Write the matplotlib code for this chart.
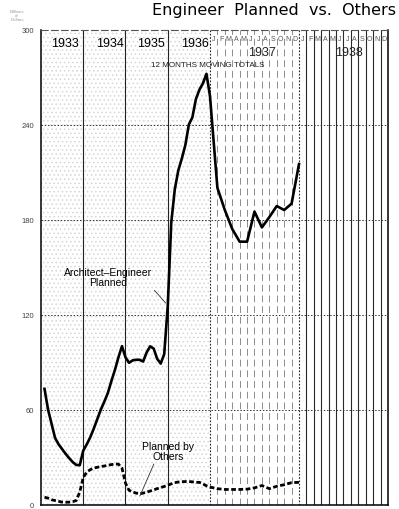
import numpy as np
import matplotlib
matplotlib.use("Agg")
import matplotlib.pyplot as plt

plt.rcParams['font.family'] = ['Liberation Sans', 'DejaVu Sans']
plt.rcParams['hatch.linewidth'] = 0.6

# Monthly 12-month moving totals, millions of dollars, Jan 1933 .. Dec 1937
architect_engineer = [
    73, 60, 51, 42, 38, 35, 32, 29.3, 26.8, 25, 24.8, 34,          # 1933
    38, 42.5, 48, 54, 60, 65, 70.5, 78, 85, 93, 100, 93,           # 1934
    89.5, 91, 91.4, 91.4, 90.3, 96, 99.9, 98.5, 92, 89, 95, 125,   # 1935
    178, 199, 211, 218.5, 227, 240, 244.5, 256, 262, 266, 272, 258,  # 1936
    200, 186, 174, 166, 166, 185, 175, 181.5, 188.5, 186, 190, 215,  # 1937
]
planned_by_others = [
    4.6, 4, 3, 2.5, 2, 1.5, 1.4, 1.5, 1.8, 2.5, 7.8, 17,           # 1933
    20.5, 22, 23, 23.5, 24, 24.3, 24.8, 25.2, 25.6, 25.5, 23, 13.5,  # 1934
    9, 8, 7.2, 6.7, 7.2, 7.8, 8.5, 9.2, 10, 10.7, 11.4, 12.2,      # 1935
    13, 13.8, 14.2, 14.4, 14.5, 14.5, 14.3, 14, 14, 13, 11.8, 11,  # 1936
    10, 9.5, 9.5, 9.5, 9.7, 10.5, 12, 10, 11.5, 12.5, 13.8, 14,    # 1937
]
months = np.arange(1, len(architect_engineer) + 1)   # end of each month, months since Jan 1933

years = ['1933', '1934', '1935', '1936', '1937', '1938']
month_letters = list('JFMAMJJASOND')
y_ticks = [0, 60, 120, 180, 240, 300]

# 1937 and 1938 are drawn on a wider monthly scale than 1933-1936
STRETCH = 2.107


def fwd(m):
    m = np.asarray(m, dtype=float)
    return np.where(m <= 48, m, 48 + (m - 48) * STRETCH)


def inv(u):
    u = np.asarray(u, dtype=float)
    return np.where(u <= 48, u, 48 + (u - 48) / STRETCH)


fig = plt.figure(figsize=(3.99, 5.10), dpi=100)
ax = fig.add_axes([41 / 399, 4.5 / 510, 347 / 399, 475 / 510])
ax.set_xscale('function', functions=(fwd, inv))
ax.set_xlim(0, 72)
ax.set_ylim(0, 300)

# stippled panel for 1933-1936
ax.axvspan(0, 48, facecolor='none', edgecolor='#d6d6d6', hatch='....', lw=0, zorder=0)

# month rulings for 1937 (light, broken) and 1938 (dark)
for m in range(49, 60):
    ax.axvline(m, color='#8c8c8c', lw=0.7, ls=(0, (7, 4)), zorder=1)
for m in range(61, 72):
    ax.axvline(m, color='#2a2a2a', lw=0.8, zorder=1)

# year separators
for m in (12, 24, 36):
    ax.axvline(m, color='#222222', lw=0.8, zorder=1)
for m in (48, 60):
    ax.axvline(m, color='#222222', lw=0.8, ls=(0, (1.5, 1.5)), zorder=1)

# dotted value rulings
for v in y_ticks[1:-1]:
    ax.axhline(v, color='#333333', lw=0.7, ls=(0, (1.5, 1.8)), zorder=1)

ax.plot(months, architect_engineer, color='black', lw=1.9, solid_joinstyle='round', zorder=3)
ax.plot(months, planned_by_others, color='black', lw=2.0, ls=(0, (1.7, 0.9)), zorder=3)

ax.set_xticks([])
ax.set_yticks(y_ticks)
ax.set_yticklabels([str(v) for v in y_ticks], fontsize=5.5, color='#444444')
ax.tick_params(axis='y', length=0, pad=5)
for side in ('left', 'bottom', 'right'):
    ax.spines[side].set_color('black')
    ax.spines[side].set_linewidth(1.1)
ax.spines['top'].set_color('#555555')
ax.spines['top'].set_linewidth(0.8)
ax.spines['top'].set_linestyle((0, (6, 3)))

# year headings
year_pos = [6.8, 19.6, 31.3, 43.75, 55.0, 66.7]
for label, xm in zip(years[:4], year_pos[:4]):
    ax.text(xm, 291.5, label, ha='center', va='center', fontsize=9, color='black')
for label, xm in zip(years[4:], year_pos[4:]):
    ax.text(xm, 285.8, label, ha='center', va='center', fontsize=9, color='#222222')
for start in (48, 60):
    for i, letter in enumerate(month_letters):
        ax.text(start + i + 0.5, 294, letter, ha='center', va='center', fontsize=5, color='#555555')

ax.text(47.4, 278, '12 MONTHS MOVING TOTALS', ha='center', va='center', fontsize=5.8, color='#222222')

ax.annotate('Architect\u2013Engineer\nPlanned', xy=(35.4, 127.3), xytext=(19, 143.5),
            ha='center', va='center', fontsize=7.5, linespacing=1.05,
            arrowprops=dict(arrowstyle='-', color='#333333', lw=0.6,
                            shrinkA=0, shrinkB=0, relpos=(1.0, 0.0)))
ax.annotate('Planned by\nOthers', xy=(28.1, 5.4), xytext=(36.1, 33.8),
            ha='center', va='center', fontsize=7.5, linespacing=1.05,
            arrowprops=dict(arrowstyle='-', color='#333333', lw=0.6,
                            shrinkA=0, shrinkB=0, relpos=(0.25, 0.0)))

fig.text(17 / 399, 1 - 16 / 510, 'Millions\nof\nDollars', ha='center', va='center',
         fontsize=3.2, color='#9a9a9a', linespacing=1.0)
fig.text(396 / 399, 1 - 15 / 510, 'Engineer  Planned  vs.  Others', ha='right', va='baseline',
         fontsize=11.5, color='black', family='DejaVu Sans')

fig.savefig('out.png', dpi=100)
